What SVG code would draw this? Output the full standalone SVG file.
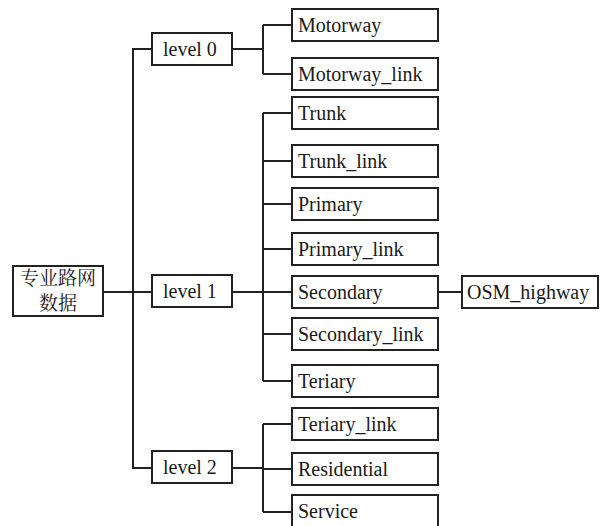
<svg xmlns="http://www.w3.org/2000/svg" width="601" height="526" viewBox="0 0 601 526">
<style>
.box{fill:#fff;stroke:#222;stroke-width:2}
.t{font-family:"Liberation Serif","DejaVu Serif",serif;font-size:20px;fill:#1a1a1a}
.c{font-family:"Noto Serif CJK SC","Noto Sans CJK SC",serif;font-size:19px;fill:#1a1a1a}
.ln{fill:none;stroke:#222;stroke-width:2}
</style>
<rect width="601" height="526" fill="#fff"/>
<g id="connectors" class="ln">
<path d="M103 292H152"/>
<path d="M152 49H133V468H152"/>
<path d="M232 49H263M263 25V74M263 25H292M263 74H292"/>
<path d="M232 292H263M263 113V381"/>
<path d="M263 113H292M263 161H292M263 204H292M263 249H292M263 292H292M263 334H292M263 381H292"/>
<path d="M232 468H263M263 424V512M263 424H292M263 469H292M263 512H292"/>
<path d="M438 292H462"/>
</g>
<g id="root"><rect class="box" x="13" y="266" width="90" height="50"/><text class="c" x="58" y="285" text-anchor="middle">专业路网</text><text class="c" x="58" y="310" text-anchor="middle">数据</text></g>
<g id="level0"><rect class="box" x="152" y="33" width="80" height="32"/><text class="t" x="163" y="56">level 0</text></g>
<g id="level1"><rect class="box" x="152" y="275" width="80" height="32"/><text class="t" x="163" y="298">level 1</text></g>
<g id="level2"><rect class="box" x="152" y="451" width="80" height="32"/><text class="t" x="163" y="474">level 2</text></g>
<g id="motorway"><rect class="box" x="292" y="9" width="146" height="32"/><text class="t" x="298" y="32">Motorway</text></g>
<g id="motorway_link"><rect class="box" x="292" y="58" width="146" height="32"/><text class="t" x="298" y="81">Motorway_link</text></g>
<g id="trunk"><rect class="box" x="292" y="97" width="146" height="32"/><text class="t" x="298" y="120">Trunk</text></g>
<g id="trunk_link"><rect class="box" x="292" y="145" width="146" height="32"/><text class="t" x="298" y="168">Trunk_link</text></g>
<g id="primary"><rect class="box" x="292" y="188" width="146" height="32"/><text class="t" x="298" y="211">Primary</text></g>
<g id="primary_link"><rect class="box" x="292" y="233" width="146" height="32"/><text class="t" x="298" y="256">Primary_link</text></g>
<g id="secondary"><rect class="box" x="292" y="276" width="146" height="32"/><text class="t" x="298" y="299">Secondary</text></g>
<g id="secondary_link"><rect class="box" x="292" y="318" width="146" height="32"/><text class="t" x="298" y="341">Secondary_link</text></g>
<g id="teriary"><rect class="box" x="292" y="365" width="146" height="32"/><text class="t" x="298" y="388">Teriary</text></g>
<g id="teriary_link"><rect class="box" x="292" y="408" width="146" height="32"/><text class="t" x="298" y="431">Teriary_link</text></g>
<g id="residential"><rect class="box" x="292" y="453" width="146" height="32"/><text class="t" x="298" y="476">Residential</text></g>
<g id="service"><rect class="box" x="292" y="495" width="146" height="34"/><text class="t" x="298" y="518">Service</text></g>
<g id="osm_highway"><rect class="box" x="462" y="276" width="136" height="32"/><text class="t" x="467" y="299">OSM_highway</text></g>
</svg>
